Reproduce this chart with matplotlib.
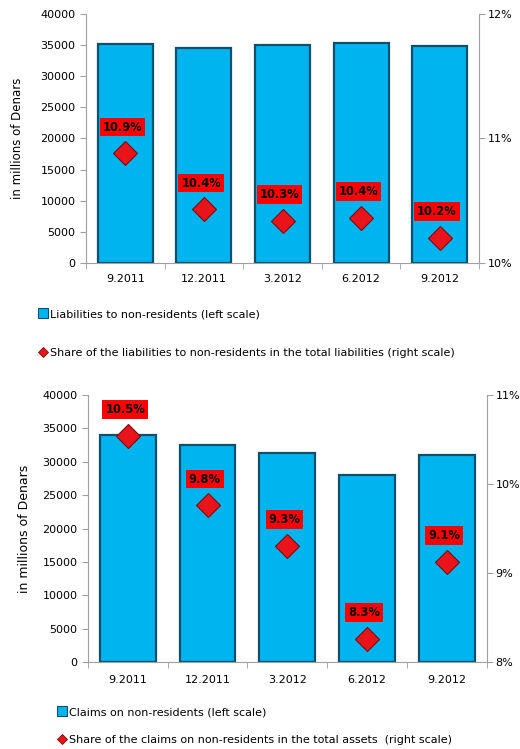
import matplotlib.pyplot as plt
from matplotlib.lines import Line2D
import numpy as np

# %%
periods = ['9.2011', '12.2011', '3.2012', '6.2012', '9.2012']

liabilities = [35150, 34600, 34950, 35300, 34800]          # millions of Denars
liab_share = [10.88, 10.43, 10.34, 10.36, 10.20]           # % of total liabilities

claims = [34000, 32450, 31350, 28100, 31000]               # millions of Denars
claims_share = [10.54, 9.76, 9.31, 8.26, 9.13]             # % of total assets

bar_color = '#00B4F0'
bar_edge = '#0E4F6A'
dia_color = '#E8141A'
dia_edge = '#7A0A0A'
axis_grey = '#A0A0A0'

plt.rcParams['font.family'] = 'DejaVu Sans'


# %%
def draw_panel(fig, rect, values, share, share_lim, share_ticks, ylab_size, ylab_pad, xpad):
    ax = fig.add_axes(rect)
    x = np.arange(len(periods))
    ax.bar(x, values, width=0.7, color=bar_color, edgecolor=bar_edge, linewidth=1.6)
    ax.set_xlim(-0.5, len(periods) - 0.5)
    ax.set_ylim(0, 40000)
    ax.set_yticks(np.arange(0, 40001, 5000))
    ax.set_xticks(x)
    ax.set_xticklabels(periods)
    ax.set_xticks(np.arange(-0.5, len(periods)), minor=True)
    ax.tick_params(axis='x', which='major', length=0, labelsize=8, pad=xpad)
    ax.tick_params(axis='x', which='minor', length=4, color=axis_grey)
    ax.tick_params(axis='y', length=4, color=axis_grey, labelsize=8)
    ax.set_ylabel('in millions of Denars', fontsize=ylab_size, labelpad=ylab_pad)
    for side in ['top', 'right']:
        ax.spines[side].set_visible(False)
    for side in ['left', 'bottom']:
        ax.spines[side].set_color(axis_grey)

    ax2 = ax.twinx()
    ax2.plot(x, share, linestyle='none', marker='D', markersize=12,
             markerfacecolor=dia_color, markeredgecolor=dia_edge, markeredgewidth=0.8)
    ax2.set_ylim(*share_lim)
    ax2.set_yticks(share_ticks)
    ax2.set_yticklabels(['%d%%' % t for t in share_ticks])
    ax2.tick_params(axis='y', length=4, color=axis_grey, labelsize=8, pad=2.5)
    for side in ['top', 'left', 'bottom']:
        ax2.spines[side].set_visible(False)
    ax2.spines['right'].set_color(axis_grey)

    for xi, s in zip(x, share):
        ax2.annotate('%.1f%%' % s, (xi, s), xytext=(-2, 19), textcoords='offset points',
                     ha='center', va='center', fontsize=8.3, fontweight='bold',
                     bbox=dict(boxstyle='square,pad=0.25', facecolor='#FF0000', edgecolor='none'))
    return ax, ax2


def legend_handles():
    sq = Line2D([], [], linestyle='none', marker='s', markersize=7,
                markerfacecolor=bar_color, markeredgecolor=bar_edge, markeredgewidth=0.8)
    dm = Line2D([], [], linestyle='none', marker='D', markersize=5.5,
                markerfacecolor=dia_color, markeredgecolor=dia_edge, markeredgewidth=0.6)
    return sq, dm


# %%
fig = plt.figure(figsize=(5.2, 7.49), dpi=100)

# top panel: liabilities
draw_panel(fig, [0.1654, 0.6489, 0.7558, 0.3324], liabilities, liab_share,
           (10, 12), [10, 11, 12], 8.5, 12, 8)
sq, dm = legend_handles()
fig.legend([sq, dm],
           ['Liabilities to non-residents (left scale)',
            'Share of the liabilities to non-residents in the total liabilities (right scale)'],
           loc='upper left', bbox_to_anchor=(0.075, 0.587), frameon=False, fontsize=8,
           handlelength=0.8, handletextpad=0.2, labelspacing=2.55, borderpad=0, borderaxespad=0)

# bottom panel: claims
draw_panel(fig, [0.1692, 0.1158, 0.7667, 0.3568], claims, claims_share,
           (8, 11), [8, 9, 10, 11], 9, 8, 9.5)
sq, dm = legend_handles()
fig.legend([sq, dm],
           ['Claims on non-residents (left scale)',
            'Share of the claims on non-residents in the total assets  (right scale)'],
           loc='upper left', bbox_to_anchor=(0.111, 0.056), frameon=False, fontsize=8,
           handlelength=0.8, handletextpad=0.2, labelspacing=1.6, borderpad=0, borderaxespad=0)

fig.savefig('out.png', dpi=100)
